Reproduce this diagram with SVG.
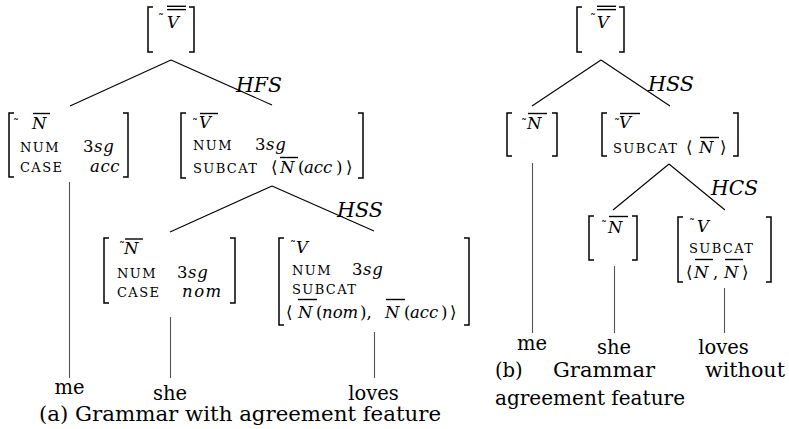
<svg xmlns="http://www.w3.org/2000/svg" width="789" height="429" viewBox="0 0 789 429">
<style>
text{font-family:'DejaVu Serif','Liberation Serif',serif;fill:#000}
.w{font-size:19.5px}
.m{font-size:16.5px}
.i{font-style:italic}
.lab{font-size:21px;font-style:italic}
.sc{font-size:13px;letter-spacing:1.4px}
.v{font-size:16.5px;letter-spacing:0.6px}
.td{font-size:12px}
.br{fill:none;stroke:#000;stroke-width:1.5}
.ov{stroke:#000;stroke-width:1.4}
.ed{stroke:#000;stroke-width:1.1;fill:none}
.vl{stroke:#555;stroke-width:1.1;fill:none}
</style>
<rect width="789" height="429" fill="#fff"/>
<g id="connectors">
<path class="ed" d="M171,60 L70,106 M171,60 L272,105"/>
<path class="ed" d="M272,186 L170,232 M272,186 L374,231"/>
<path class="ed" d="M601,60 L532,106 M601,60 L670,106"/>
<path class="ed" d="M669,164 L613,210 M669,164 L725,210"/>
<path class="vl" d="M69.5,182 V378 M170.5,317 V378 M374.5,332 V378"/>
<path class="vl" d="M532.5,163 V333 M614.5,266 V333 M724.5,288 V333"/>
</g>
<g id="edge-labels">
<text class="lab" x="236" y="92" textLength="46" lengthAdjust="spacingAndGlyphs">HFS</text>
<text class="lab" x="337" y="217" textLength="46" lengthAdjust="spacingAndGlyphs">HSS</text>
<text class="lab" x="648" y="91" textLength="46" lengthAdjust="spacingAndGlyphs">HSS</text>
<text class="lab" x="711" y="195" textLength="47" lengthAdjust="spacingAndGlyphs">HCS</text>
</g>
<g id="a-root">
<path class="br" d="M153,7 H148 V52 H153 M189,7 H194 V52 H189"/>
<text class="td" x="158" y="23">˜</text>
<text class="m i" x="167" y="28">V</text>
<line class="ov" x1="167" y1="6.3" x2="186" y2="6.3"/>
<line class="ov" x1="167" y1="9.6" x2="186" y2="9.6"/>
</g>
<g id="a-n-me">
<path class="br" d="M14,113 H9 V177 H14 M123,113 H128 V177 H123"/>
<text class="td" x="13" y="128">˜</text>
<text class="m i" x="32" y="129">N</text>
<line class="ov" x1="33" y1="113.5" x2="50" y2="113.5"/>
<text class="sc" x="20" y="152">NUM</text>
<text class="v" x="83" y="152">3<tspan class="i">sg</tspan></text>
<text class="sc" x="20" y="172">CASE</text>
<text class="v i" x="90" y="172">acc</text>
</g>
<g id="a-v">
<path class="br" d="M186,113 H181 V178 H186 M358,113 H363 V178 H358"/>
<text class="td" x="192" y="128">˜</text>
<text class="m i" x="199" y="128">V</text>
<line class="ov" x1="200" y1="113.5" x2="218" y2="113.5"/>
<text class="sc" x="193" y="150">NUM</text>
<text class="v" x="255" y="150">3<tspan class="i">sg</tspan></text>
<text class="sc" x="193" y="173">SUBCAT</text>
<text class="m" y="173"><tspan x="271">⟨</tspan><tspan class="i" x="280">N</tspan><tspan x="298">(</tspan><tspan class="i" x="304">acc</tspan><tspan x="336">)</tspan><tspan x="346">⟩</tspan></text>
<line class="ov" x1="280" y1="157.5" x2="298" y2="157.5"/>
</g>
<g id="a-n-she">
<path class="br" d="M109,238 H104 V303 H109 M230,238 H235 V303 H230"/>
<text class="td" x="119" y="251">˜</text>
<text class="m i" x="124" y="254">N</text>
<line class="ov" x1="125" y1="239" x2="143" y2="239"/>
<text class="sc" x="117" y="278">NUM</text>
<text class="v" x="177" y="278">3<tspan class="i">sg</tspan></text>
<text class="sc" x="117" y="297">CASE</text>
<text class="v i" x="182" y="297" style="letter-spacing:1.5px">nom</text>
</g>
<g id="a-v-loves">
<path class="br" d="M284,238 H279 V325 H284 M464,238 H469 V325 H464"/>
<text class="td" x="290" y="250">˜</text>
<text class="m i" x="296" y="253">V</text>
<text class="sc" x="292" y="275">NUM</text>
<text class="v" x="352" y="275">3<tspan class="i">sg</tspan></text>
<text class="sc" x="292" y="294">SUBCAT</text>
<text class="m" y="318"><tspan x="286">⟨</tspan><tspan class="i" x="298">N</tspan><tspan x="316">(</tspan><tspan class="i" x="322">nom</tspan><tspan x="360">),</tspan><tspan class="i" x="385">N</tspan><tspan x="404">(</tspan><tspan class="i" x="410">acc</tspan><tspan x="441">)</tspan><tspan x="450">⟩</tspan></text>
<line class="ov" x1="298" y1="299.5" x2="317" y2="299.5"/>
<line class="ov" x1="386" y1="299.5" x2="405" y2="299.5"/>
</g>
<g id="a-words">
<text class="w" x="69.5" y="394" text-anchor="middle">me</text>
<text class="w" x="170" y="400" text-anchor="middle">she</text>
<text class="w" x="373.5" y="400" text-anchor="middle">loves</text>
<text class="w" x="39" y="421" textLength="402" lengthAdjust="spacingAndGlyphs">(a) Grammar with agreement feature</text>
</g>
<g id="b-root">
<path class="br" d="M582,7 H577 V52 H582 M619,7 H624 V52 H619"/>
<text class="td" x="590" y="23">˜</text>
<text class="m i" x="597" y="28">V</text>
<line class="ov" x1="597" y1="6.3" x2="616" y2="6.3"/>
<line class="ov" x1="597" y1="9.6" x2="616" y2="9.6"/>
</g>
<g id="b-n-me">
<path class="br" d="M512,113 H507 V156 H512 M552,113 H557 V156 H552"/>
<text class="td" x="521" y="128">˜</text>
<text class="m i" x="527" y="129">N</text>
<line class="ov" x1="528" y1="113.5" x2="547" y2="113.5"/>
</g>
<g id="b-v">
<path class="br" d="M607,113 H602 V156 H607 M733,113 H738 V156 H733"/>
<text class="td" x="614" y="128">˜</text>
<text class="m i" x="619" y="128">V</text>
<line class="ov" x1="620" y1="113.5" x2="640" y2="113.5"/>
<text class="sc" x="613" y="153">SUBCAT</text>
<text class="m" y="153"><tspan x="686">⟨</tspan><tspan class="i" x="699">N</tspan><tspan x="720">⟩</tspan></text>
<line class="ov" x1="700" y1="137.5" x2="719" y2="137.5"/>
</g>
<g id="b-n-she">
<path class="br" d="M594,216 H589 V260 H594 M632,216 H637 V260 H632"/>
<text class="td" x="601" y="230">˜</text>
<text class="m i" x="608" y="233">N</text>
<line class="ov" x1="609" y1="216.5" x2="628" y2="216.5"/>
</g>
<g id="b-v-loves">
<path class="br" d="M683,217 H678 V282 H683 M766,217 H771 V282 H766"/>
<text class="td" x="689" y="228">˜</text>
<text class="m i" x="697" y="232">V</text>
<text class="sc" x="689" y="253">SUBCAT</text>
<text class="m" y="278"><tspan x="686">⟨</tspan><tspan class="i" x="694">N</tspan><tspan x="713">,</tspan><tspan class="i" x="724">N</tspan><tspan x="742">⟩</tspan></text>
<line class="ov" x1="695" y1="259.5" x2="713" y2="259.5"/>
<line class="ov" x1="725" y1="259.5" x2="743" y2="259.5"/>
</g>
<g id="b-words">
<text class="w" x="532" y="350" text-anchor="middle">me</text>
<text class="w" x="614" y="354" text-anchor="middle">she</text>
<text class="w" x="723.5" y="354" text-anchor="middle">loves</text>
<text class="w" x="495" y="377">(b)</text>
<text class="w" x="553" y="377" textLength="102" lengthAdjust="spacingAndGlyphs">Grammar</text>
<text class="w" x="705" y="377" textLength="80" lengthAdjust="spacingAndGlyphs">without</text>
<text class="w" x="495" y="405" textLength="190" lengthAdjust="spacingAndGlyphs">agreement feature</text>
</g>
</svg>
